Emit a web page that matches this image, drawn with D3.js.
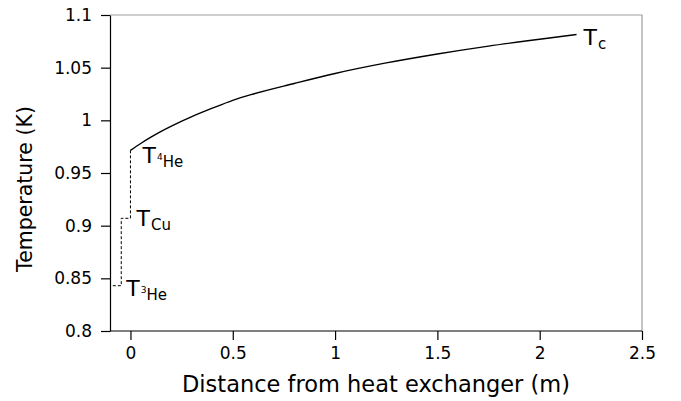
<!DOCTYPE html>
<html>
<head>
<meta charset="utf-8">
<script src="https://cdn.jsdelivr.net/npm/d3@7"></script>
<style>
  body { margin: 0; background: #fff; }
  svg { font-family: "DejaVu Sans", sans-serif; }
</style>
</head>
<body>
<div id="chart"></div>
<script>
// temperature profile along the tube
const distance = [0, 0.05, 0.1, 0.15, 0.2, 0.3, 0.4, 0.5, 0.6, 0.8, 1.0, 1.25, 1.5, 1.75, 2.0, 2.18];
const temperature = [0.9715, 0.978, 0.984, 0.9895, 0.9945, 1.0035, 1.0115, 1.019, 1.025, 1.035, 1.0445, 1.0545, 1.063, 1.0705, 1.077, 1.0815];

// dashed step: 4He -> Cu -> 3He
const stepX = [0, 0, -0.045, -0.045, -0.1];
const stepT = [0.9715, 0.907, 0.907, 0.843, 0.843];

const xTicks = [0, 0.5, 1, 1.5, 2, 2.5];
const xTickLabels = ["0", "0.5", "1", "1.5", "2", "2.5"];
const yTicks = [0.8, 0.85, 0.9, 0.95, 1, 1.05, 1.1];
const yTickLabels = ["0.8", "0.85", "0.9", "0.95", "1", "1.05", "1.1"];

const width = 681, height = 401;
const margin = {top: 15, right: 39, bottom: 70, left: 110};
const innerW = width - margin.left - margin.right;
const innerH = height - margin.top - margin.bottom;

const x = d3.scaleLinear().domain([-0.1, 2.5]).range([0, innerW]);
const y = d3.scaleLinear().domain([0.8, 1.1]).range([innerH, 0]);

const svg = d3.select("#chart").append("svg")
  .attr("width", width)
  .attr("height", height);

const g = svg.append("g")
  .attr("transform", `translate(${margin.left},${margin.top})`);

// grey frame on top and right
g.append("path")
  .attr("d", `M0,0H${innerW}V${innerH}`)
  .attr("fill", "none")
  .attr("stroke", "#a0a0a0")
  .attr("stroke-width", 1.2);

const xAxis = g.append("g")
  .attr("transform", `translate(0,${innerH})`)
  .call(d3.axisBottom(x).tickValues(xTicks)
    .tickFormat((d, i) => xTickLabels[i]).tickSize(9).tickPadding(7).tickSizeOuter(0));

const yAxis = g.append("g")
  .call(d3.axisLeft(y).tickValues(yTicks)
    .tickFormat((d, i) => yTickLabels[i]).tickSize(9).tickPadding(9).tickSizeOuter(0));

[xAxis, yAxis].forEach(a => {
  a.select(".domain").attr("stroke", "#000").attr("stroke-width", 1.2);
  a.selectAll(".tick line").attr("stroke", "#000").attr("stroke-width", 1.2);
  a.selectAll("text").attr("fill", "#000").style("font-size", "17px").style("font-family", "DejaVu Sans");
});
xAxis.select(".domain").attr("d", `M0,0H${innerW}`);

// axis titles
svg.append("text")
  .attr("x", 376)
  .attr("y", 392)
  .attr("text-anchor", "middle")
  .style("font-size", "22.5px")
  .text("Distance from heat exchanger (m)");

svg.append("text")
  .attr("transform", `translate(32,${margin.top + innerH / 2 + 16}) rotate(-90)`)
  .attr("text-anchor", "middle")
  .style("font-size", "20.5px")
  .text("Temperature (K)");

// curve
const line = d3.line().x(d => x(d[0])).y(d => y(d[1])).curve(d3.curveMonotoneX);
g.append("path")
  .datum(d3.zip(distance, temperature))
  .attr("d", line)
  .attr("fill", "none")
  .attr("stroke", "#000")
  .attr("stroke-width", 1.4);

g.append("path")
  .datum(d3.zip(stepX, stepT))
  .attr("d", d3.line().x(d => x(d[0])).y(d => y(d[1])))
  .attr("fill", "none")
  .attr("stroke", "#000")
  .attr("stroke-width", 1)
  .attr("stroke-dasharray", "3,2");

// T labels with small isotope number and subscript
const labels = [
  {sup: "", sub: "c", px: 2.18, pt: 1.0815, dx: 7, dy: 11},
  {sup: "4", sub: "He", px: 0, pt: 0.9715, dx: 12, dy: 13},
  {sup: "", sub: "Cu", px: 0, pt: 0.907, dx: 6, dy: 8},
  {sup: "3", sub: "He", px: -0.045, pt: 0.843, dx: 5, dy: 10}
];

labels.forEach(l => {
  const t = g.append("text")
    .attr("x", x(l.px) + l.dx)
    .attr("y", y(l.pt) + l.dy)
    .style("font-size", "22px");
  t.append("tspan").text("T");
  if (l.sup) {
    t.append("tspan").attr("dx", 1).attr("dy", -3).style("font-size", "9px").text(l.sup);
    t.append("tspan").attr("dy", 7).style("font-size", "15px").text(l.sub);
  } else {
    t.append("tspan").attr("dx", 1).attr("dy", 4).style("font-size", "15px").text(l.sub);
  }
});
</script>
</body>
</html>
